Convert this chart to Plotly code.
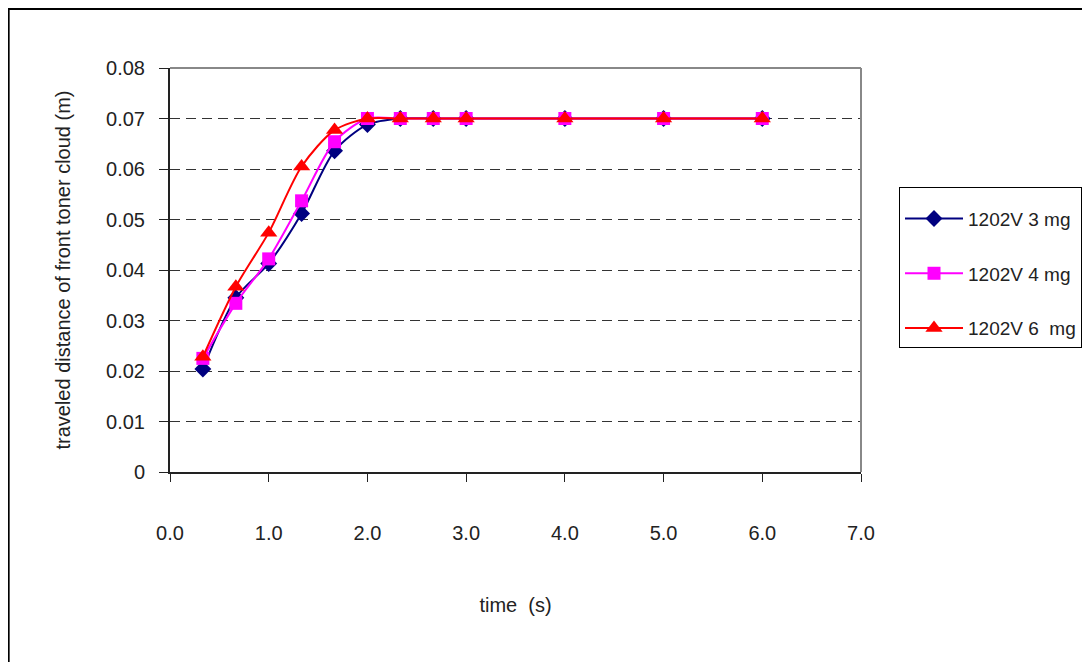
import plotly.graph_objects as go

time_s = [0.333, 0.667, 1.0, 1.333, 1.667, 2.0, 2.333, 2.667, 3.0, 4.0, 5.0, 6.0]
dist_3mg = [0.0204, 0.0345, 0.0413, 0.0512, 0.0636, 0.0688, 0.0700, 0.0700, 0.0700, 0.0700, 0.0700, 0.0700]
dist_4mg = [0.0225, 0.0334, 0.0422, 0.0537, 0.0654, 0.0700, 0.0700, 0.0700, 0.0700, 0.0700, 0.0700, 0.0700]
dist_6mg = [0.0228, 0.0367, 0.0474, 0.0605, 0.0677, 0.0700, 0.0700, 0.0700, 0.0700, 0.0700, 0.0700, 0.0700]

names = ["1202V 3 mg", "1202V 4 mg", "1202V 6  mg"]
colors = ["#000080", "#FF00FF", "#FF0000"]
symbols = ["diamond", "square", "triangle-up"]
sizes = [13, 13, 15]

fig = go.Figure()
for i, (nm, ys) in enumerate(zip(names, [dist_3mg, dist_4mg, dist_6mg])):
    fig.add_trace(go.Scatter(
        x=time_s, y=ys, name=nm, mode="lines+markers",
        line=dict(color=colors[i], width=2, shape="spline", smoothing=0.8),
        marker=dict(symbol=symbols[i], color=colors[i], size=sizes[i]),
        legendgroup=f"g{i}",
    ))

font = dict(family="Liberation Sans, Arial, sans-serif", size=20, color="#222222")

fig.update_layout(
    width=1082, height=654,
    margin=dict(l=162, r=229, t=60, b=190, autoexpand=False),
    paper_bgcolor="white", plot_bgcolor="white",
    font=font,
    showlegend=True,
    legend=dict(
        x=1.055, y=0.7054, xanchor="left", yanchor="top",
        bordercolor="#000000", borderwidth=1, bgcolor="white",
        font=dict(family="Liberation Sans, Arial, sans-serif", size=19, color="#222222"),
        tracegroupgap=27, itemwidth=58,
        title=dict(text=" ", font=dict(size=9)),
    ),
    xaxis=dict(
        range=[0, 7], dtick=1, tick0=0, tickformat=".1f",
        showline=True, linecolor="#222222", linewidth=2,
        ticks="outside", ticklen=8, tickcolor="#222222",
        ticklabelstandoff=34, showgrid=False, zeroline=False,
        title=dict(text="time  (s)", standoff=55, font=font),
    ),
    yaxis=dict(
        range=[0, 0.08], dtick=0.01, tick0=0,
        showline=True, linecolor="#222222", linewidth=2,
        ticks="outside", ticklen=9, tickcolor="#222222",
        ticklabelstandoff=10,
        showgrid=True, gridcolor="#333333", griddash="10px,6px", gridwidth=1,
        zeroline=False,
        title=dict(text="traveled distance of front toner cloud (m)", standoff=30, font=font),
    ),
    shapes=[
        dict(type="line", xref="paper", yref="paper", x0=0, x1=1, y0=1, y1=1,
             line=dict(color="#888888", width=2)),
        dict(type="line", xref="paper", yref="paper", x0=1, x1=1, y0=0, y1=1,
             line=dict(color="#888888", width=2)),
        dict(type="rect", xref="paper", yref="paper", x0=-0.2335, x1=1.4, y0=-0.7, y1=1.146,
             line=dict(color="#000000", width=2)),
    ],
)

fig.write_html("out.html")
